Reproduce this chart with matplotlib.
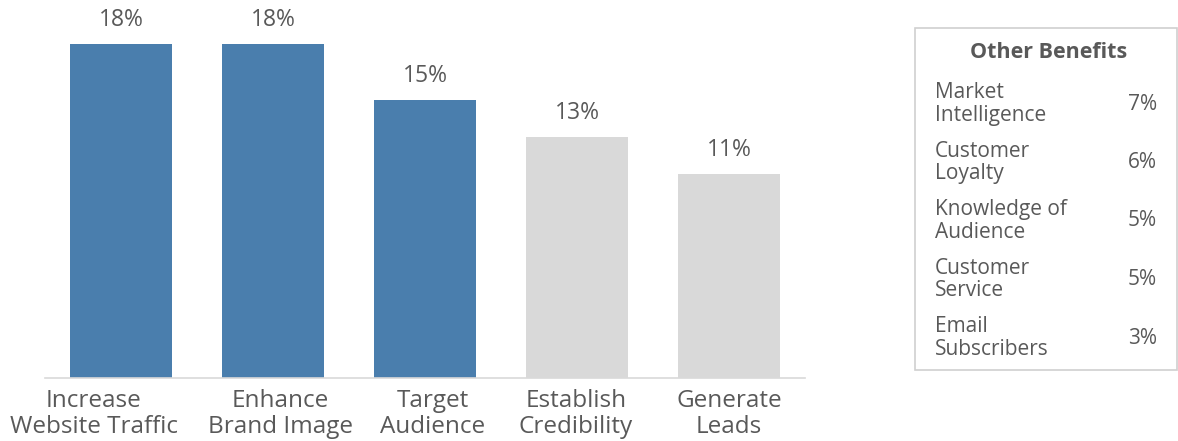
import matplotlib.pyplot as plt
from matplotlib.patches import Rectangle
from matplotlib.transforms import ScaledTranslation

plt.rcParams['font.family'] = ['Open Sans', 'DejaVu Sans']

categories = ['Increase\nWebsite Traffic', 'Enhance\nBrand Image', 'Target\nAudience',
              'Establish\nCredibility', 'Generate\nLeads']
values = [18, 18, 15, 13, 11]
highlight = [True, True, True, False, False]

other_labels = ['Market\nIntelligence', 'Customer\nLoyalty', 'Knowledge of\nAudience',
                'Customer\nService', 'Email\nSubscribers']
other_values = [7, 6, 5, 5, 3]

BLUE = '#4A7EAD'
GREY = '#D9D9D9'
TEXT = '#595959'

W, H = 1178, 441
fig = plt.figure(figsize=(W / 100, H / 100), dpi=100)

# main bar chart, placed in pixel terms
ax = fig.add_axes([45 / W, (H - 378) / H, 760 / W, 378 / H])
colors = [BLUE if h else GREY for h in highlight]
x = range(len(values))
ax.bar(x, values, width=0.67, color=colors)
ax.set_xlim(-0.5, len(values) - 0.5)
ax.set_ylim(0, 20.38)
for i, v in enumerate(values):
    ax.text(i, v + 0.65, f'{v}%', ha='center', va='bottom', fontsize=16.5, color=TEXT)

ax.set_xticks(list(x))
ax.set_xticklabels(categories, fontsize=17.5, color=TEXT, linespacing=1.08)
ax.tick_params(axis='x', length=0, pad=8)
# nudge the long labels apart so they don't collide
nudges = [-27, 7, 8, -1, 0]
for lab, dx in zip(ax.get_xticklabels(), nudges):
    lab.set_transform(lab.get_transform() + ScaledTranslation(dx / 100, 0, fig.dpi_scale_trans))
ax.set_yticks([])
for side in ['top', 'right', 'left']:
    ax.spines[side].set_visible(False)
ax.spines['bottom'].set_color(GREY)
ax.spines['bottom'].set_linewidth(1.2)

# side panel with the remaining benefits
def fx(px):
    return px / W

def fy(py):
    return 1 - py / H

fig.patches.append(Rectangle((fx(915), fy(370)), fx(262), (370 - 28) / H,
                             transform=fig.transFigure, fill=False,
                             edgecolor='#D0D0D0', linewidth=1.2))
fig.text(fx(1049), fy(53), 'Other Benefits', ha='center', va='center',
         fontsize=15.5, fontweight='bold', color=TEXT)
for k, (lab, val) in enumerate(zip(other_labels, other_values)):
    yc = 104 + k * 58.5
    fig.text(fx(935), fy(yc), lab, ha='left', va='center', fontsize=15,
             color=TEXT, linespacing=1.1)
    fig.text(fx(1157), fy(yc), f'{val}%', ha='right', va='center',
             fontsize=15, color=TEXT)

fig.savefig('out.png', dpi=100)
